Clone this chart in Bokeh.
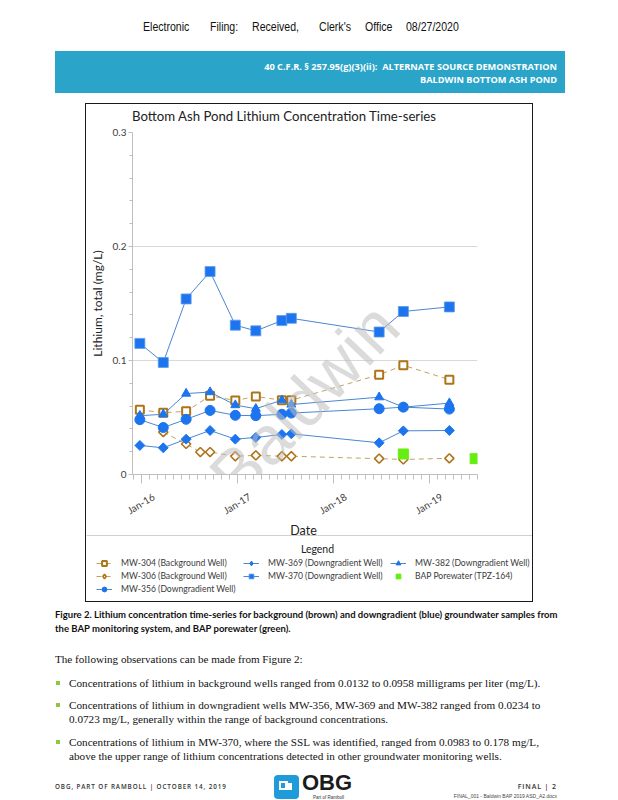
from datetime import datetime
from bokeh.plotting import figure
from bokeh.models import (FixedTicker, Legend, LegendItem, Label, Range1d, Div, Spacer, Span,
                          DatetimeAxis, DatetimeTickFormatter)
from bokeh.layouts import column, row
from bokeh.embed import file_html
from bokeh.resources import INLINE

# ---------------- data ----------------
sample_dates = ["2015-12-26", "2016-03-24", "2016-06-19", "2016-09-18", "2016-12-23",
                "2017-03-11", "2017-06-18", "2017-07-24", "2018-06-23", "2018-09-23", "2019-03-17"]
mw304 = [0.0568, 0.0542, 0.0554, 0.0690, 0.0649, 0.0684, 0.0652, 0.0652, 0.0875, 0.0958, 0.0832]
mw306_dates = ["2016-03-24", "2016-06-19", "2016-08-12", "2016-09-18", "2016-12-23",
               "2017-03-11", "2017-06-18", "2017-07-24", "2018-06-23", "2018-09-23", "2019-03-17"]
mw306 = [0.0372, 0.0268, 0.0197, 0.0197, 0.0160, 0.0168, 0.0160, 0.0160, 0.0139, 0.0132, 0.0142]
mw356 = [0.0481, 0.0412, 0.0484, 0.0562, 0.0519, 0.0516, 0.0528, 0.0539, 0.0577, 0.0591, 0.0574]
mw369 = [0.0255, 0.0234, 0.0310, 0.0386, 0.0310, 0.0325, 0.0351, 0.0357, 0.0278, 0.0383, 0.0386]
mw370 = [0.1150, 0.0983, 0.1540, 0.1780, 0.1310, 0.1260, 0.1350, 0.1370, 0.1250, 0.1430, 0.1470]
mw382 = [0.0516, 0.0528, 0.0710, 0.0723, 0.0609, 0.0577, 0.0652, 0.0614, 0.0678, 0.0591, 0.0626]
bap_dates = ["2018-09-23", "2019-06-23"]
bap = [0.0180, 0.0139]

x_start, x_end = "2015-11-28", "2019-07-02"
year_ticks = ["2016-01-01", "2017-01-01", "2018-01-01", "2019-01-01"]
year_label_format = "%b-%y"          # Jan-16, Jan-17, ...
y_ticks = [0, 0.1, 0.2, 0.3]
y_tick_labels = ["0", "0.1", "0.2", "0.3"]

labels = {
    "304": "MW-304 (Background Well)",
    "306": "MW-306 (Background Well)",
    "356": "MW-356 (Downgradient Well)",
    "369": "MW-369 (Downgradient Well)",
    "370": "MW-370 (Downgradient Well)",
    "382": "MW-382 (Downgradient Well)",
    "bap": "BAP Porewater (TPZ-164)",
}
chart_title = "Bottom Ash Pond Lithium Concentration Time-series"
x_title = "Date"
legend_title = "Legend"
watermark = "Baldwin"

EPOCH = datetime(1970, 1, 1)


def dt(s):
    return datetime.strptime(s, "%Y-%m-%d")


def ms(d):
    return (d - EPOCH).total_seconds() * 1000.0


def no_frame_align(fig):
    if "frame_align" in fig.properties():
        fig.frame_align = False


FONT = "Lato"
blue = "#1C74EE"
blue_line = "#4A86D2"
brown = "#AE7418"
brown_line = "#BFA263"
green = "#66EE11"

# ---------------- chart title strip ----------------
TH = 20
title_div = Div(text=(f'<div style="width:446px;height:{TH}px;position:relative;">'
                      f'<span style="position:absolute;left:46px;top:4px;font-family:Lato;'
                      f'font-size:13.2px;line-height:16px;color:#222;white-space:nowrap;">'
                      f'{chart_title}</span></div>'),
                width=446, height=TH, margin=0)

# ---------------- chart figure ----------------
PH = 400
LABEL_SHIFT_MS = 46 * 86400000.0   # rotated labels are right-anchored; shift so they centre on ticks
p = figure(width=446, height=PH, x_axis_type="datetime",
           x_range=Range1d(dt(x_start), dt(x_end)),
           y_range=Range1d(0, 0.3),
           output_backend="svg", toolbar_location=None,
           min_border_left=45, min_border_right=55, min_border_top=8, min_border_bottom=46)
no_frame_align(p)
p.extra_x_ranges = {"labels": Range1d(ms(dt(x_start)) - LABEL_SHIFT_MS, ms(dt(x_end)) - LABEL_SHIFT_MS)}
p.outline_line_color = None
p.background_fill_color = "white"
p.border_fill_color = "white"

xa = p.xaxis[0]
major_ms = [ms(dt(s)) for s in year_ticks]
minor_ms = []
for yr in range(2015, 2020):
    for mo in range(1, 13):
        d = datetime(yr, mo, 1)
        if dt(x_start) <= d <= dt(x_end) and mo != 1:
            minor_ms.append(ms(d))
xa.ticker = FixedTicker(ticks=major_ms, minor_ticks=minor_ms)
xa.major_label_overrides = {int(t): "" for t in major_ms}
xa.major_label_standoff = 0
xa.axis_line_color = "#BFBFBF"
xa.major_tick_line_color = "#BFBFBF"
xa.minor_tick_line_color = "#BFBFBF"
xa.major_tick_out = 9
xa.major_tick_in = 0
xa.minor_tick_out = 5
xa.minor_tick_in = 0

xl = DatetimeAxis(x_range_name="labels",
                  ticker=FixedTicker(ticks=major_ms),
                  formatter=DatetimeTickFormatter(years=year_label_format, months=year_label_format,
                                                  days=year_label_format, hours=year_label_format))
xl.axis_line_color = None
xl.major_tick_line_color = None
xl.minor_tick_line_color = None
xl.major_tick_out = 0
xl.minor_tick_out = 0
xl.major_label_orientation = 0.55
xl.major_label_standoff = 12
xl.major_label_text_font = FONT
xl.major_label_text_font_size = "10px"
xl.major_label_text_color = "#404040"
p.add_layout(xl, "below")

ya = p.yaxis[0]
ya.ticker = FixedTicker(ticks=y_ticks, minor_ticks=[round(0.02 * i, 2) for i in range(1, 15)])
ya.major_label_overrides = {t: l for t, l in zip(y_ticks, y_tick_labels)}
ya.axis_line_color = "#BFBFBF"
ya.major_tick_line_color = "#BFBFBF"
ya.minor_tick_line_color = "#BFBFBF"
ya.major_tick_out = 4
ya.major_tick_in = 0
ya.minor_tick_out = 3
ya.minor_tick_in = 0
ya.major_label_text_font = FONT
ya.major_label_text_font_size = "10px"
ya.major_label_text_color = "#404040"
ya.major_label_standoff = 2
ya.axis_label = "Lithium, total (mg/L)"
ya.axis_label_text_font = FONT
ya.axis_label_text_font_size = "12px"
ya.axis_label_text_font_style = "normal"
ya.axis_label_text_color = "#222222"
ya.axis_label_standoff = 5

p.xgrid.visible = False
p.ygrid.grid_line_color = "#D9D9D9"

p.add_layout(Label(x=ms(dt("2017-09-10")), y=0.065, text=watermark,
                   angle=0.81, text_align="center", text_baseline="middle",
                   text_font="Liberation Sans", text_font_size="68px",
                   text_color="#BDBDBD", text_alpha=0.55))

d304 = [dt(s) for s in sample_dates]
d306 = [dt(s) for s in mw306_dates]
dbap = [dt(s) for s in bap_dates]

styles = {
    "304": (dict(line_color=brown_line, line_width=1, line_dash="5 4"),
            dict(marker="square", size=8, fill_color="white", line_color=brown, line_width=2)),
    "306": (dict(line_color=brown_line, line_width=1, line_dash="5 4"),
            dict(marker="square", angle=0.785398, size=6.5, fill_color="white",
                 line_color=brown, line_width=1.6)),
    "370": (dict(line_color=blue_line, line_width=1),
            dict(marker="square", size=10, fill_color=blue, line_color="#5E9BEA", line_width=0.8)),
    "356": (dict(line_color=blue_line, line_width=1),
            dict(marker="circle", size=10, fill_color=blue, line_color=blue)),
    "369": (dict(line_color=blue_line, line_width=1),
            dict(marker="square", angle=0.785398, size=7, fill_color=blue, line_color=blue)),
    "382": (dict(line_color=blue_line, line_width=1),
            dict(marker="triangle", size=9, fill_color=blue, line_color=blue)),
    "bap": (None, dict(marker="square", size=10, fill_color=green, line_color=green)),
}
series = {
    "304": (d304, mw304), "306": (d306, mw306), "370": (d304, mw370), "356": (d304, mw356),
    "369": (d304, mw369), "382": (d304, mw382), "bap": (dbap, bap),
}
for key in ["304", "306", "370", "356", "369", "382", "bap"]:
    xs, ys = series[key]
    lst, mst = styles[key]
    if lst is not None:
        p.line(xs, ys, **lst)
    p.scatter(xs, ys, **mst)

# legend swatches cannot show a rotated square, so use Bokeh's diamond marker there
swatch_styles = dict(styles)
swatch_styles["306"] = (styles["306"][0], dict(marker="diamond", size=11, fill_color="white",
                                               line_color=brown, line_width=1.6))
swatch_styles["369"] = (styles["369"][0], dict(marker="diamond", size=12, fill_color=blue,
                                               line_color=blue))

# ---------------- axis title + legend strip (pixel-unit canvas) ----------------
QW, QH = 446, 497 - PH - TH
q = figure(width=QW, height=QH, x_range=Range1d(0, QW), y_range=Range1d(0, QH),
           output_backend="svg", toolbar_location=None,
           min_border_left=0, min_border_right=0, min_border_top=0, min_border_bottom=0,
           x_axis_location=None, y_axis_location=None)
no_frame_align(q)
q.grid.visible = False
q.outline_line_color = None
q.background_fill_color = "white"
q.border_fill_color = "white"

q.add_layout(Label(x=217, y=71, text=x_title, text_align="center", text_baseline="middle",
                   text_font=FONT, text_font_size="12.5px", text_color="#222222"))
q.add_layout(Span(location=66, dimension="width", line_color="#D0D0D0", line_width=1))
q.add_layout(Label(x=231, y=53, text=legend_title, text_align="center",
                   text_baseline="middle", text_font=FONT, text_font_size="10.5px",
                   text_color="#222222"))

nan = float("nan")
swatch = {}
for key in ["304", "306", "370", "356", "369", "382", "bap"]:
    lst, mst = swatch_styles[key]
    rs = []
    if lst is not None:
        rs.append(q.line([nan], [nan], **lst))
    rs.append(q.scatter([nan], [nan], **mst))
    swatch[key] = rs

order = ["304", "369", "382", "306", "370", "bap", "356"]
items = [LegendItem(label=labels[k], renderers=swatch[k]) for k in order]
legend = Legend(items=items, orientation="horizontal", ncols=3, location=(10, 6),
                margin=0, padding=0, spacing=1, glyph_width=16, glyph_height=12,
                label_height=12, label_width=121, label_standoff=9,
                label_text_font=FONT, label_text_font_size="8.6px",
                label_text_color="#3A3A3A", border_line_color=None,
                background_fill_alpha=0)
q.add_layout(legend, "center")

# ---------------- page texts ----------------
filing_words = [("Electronic", 143), ("Filing:", 210), ("Received,", 252),
                ("Clerk's", 319), ("Office", 365), ("08/27/2020", 406)]
band_line1 = "40 C.F.R. § 257.95(g)(3)(ii):&nbsp; ALTERNATE SOURCE DEMONSTRATION"
band_line2 = "BALDWIN BOTTOM ASH POND"
caption1 = ("Figure 2. Lithium concentration time-series for background (brown) and "
            "downgradient (blue) groundwater samples from")
caption2 = "the BAP monitoring system, and BAP porewater (green)."
intro = "The following observations can be made from Figure 2:"
bullets = [
    ["Concentrations of lithium in background wells ranged from 0.0132 to 0.0958 milligrams per liter (mg/L)."],
    ["Concentrations of lithium in downgradient wells MW-356, MW-369 and MW-382 ranged from 0.0234 to",
     "0.0723 mg/L, generally within the range of background concentrations."],
    ["Concentrations of lithium in MW-370, where the SSL was identified, ranged from 0.0983 to 0.178 mg/L,",
     "above the upper range of lithium concentrations detected in other groundwater monitoring wells."],
]
footer_left = "OBG, PART OF RAMBOLL | OCTOBER 14, 2019"
footer_right = "FINAL | 2"
footer_file = "FINAL_001 - Baldwin BAP 2019 ASD_A2.docx"

hdr = ['<div style="position:relative;width:618px;height:104px;overflow:hidden;'
       'font-family:\'Liberation Sans\';color:#111;">']
for w, x in filing_words:
    hdr.append(f'<span style="position:absolute;left:{x}px;top:20px;font-size:12px;'
               f'line-height:14px;white-space:nowrap;transform:scaleX(0.88);'
               f'transform-origin:left center;">{w}</span>')
hdr.append('<div style="position:absolute;left:55px;top:51px;width:510px;height:42px;'
           'background:#2AA4C8;"></div>')
hdr.append(f'<div style="position:absolute;right:61px;top:60px;font-family:\'Open Sans\';'
           f'font-weight:700;font-size:9.2px;line-height:13px;color:white;white-space:nowrap;'
           f'text-align:right;">{band_line1}<br>{band_line2}</div>')
hdr.append('<div style="position:absolute;left:85px;top:103px;width:448px;height:1px;'
           'background:#1a1a1a;"></div>')
hdr.append('</div>')
header = Div(text="".join(hdr), width=618, height=104, margin=0)

ft = ['<div style="position:relative;width:618px;height:199px;overflow:hidden;color:#111;">']
ft.append('<div style="position:absolute;left:85px;top:0px;width:448px;height:1px;'
          'background:#1a1a1a;"></div>')
ft.append(f'<div style="position:absolute;left:55px;top:7px;font-family:Lato;font-weight:700;'
          f'font-size:9.5px;line-height:14px;white-space:nowrap;">{caption1}<br>{caption2}</div>')
ft.append(f'<div style="position:absolute;left:55px;top:52px;font-family:\'Liberation Serif\';'
          f'font-size:11.1px;line-height:13px;white-space:nowrap;">{intro}</div>')
tops = [75, 97, 134]
for lines, t in zip(bullets, tops):
    ft.append(f'<div style="position:absolute;left:56px;top:{t + 5}px;width:4px;height:4px;'
              f'background:#8DC63F;"></div>')
    ft.append(f'<div style="position:absolute;left:69px;top:{t}px;font-family:\'Liberation Serif\';'
              f'font-size:11.2px;line-height:14px;white-space:nowrap;">{"<br>".join(lines)}</div>')
ft.append(f'<div style="position:absolute;left:55px;top:182px;font-family:\'Open Sans\';'
          f'font-weight:600;font-size:6.3px;letter-spacing:0.9px;line-height:8px;color:#333;'
          f'white-space:nowrap;">{footer_left}</div>')
ft.append(f'<div style="position:absolute;right:61px;top:182px;font-family:\'Open Sans\';'
          f'font-weight:600;font-size:7px;letter-spacing:0.9px;line-height:8px;color:#333;'
          f'white-space:nowrap;">{footer_right}</div>')
ft.append(f'<div style="position:absolute;right:61px;top:192px;font-family:\'Liberation Sans\';'
          f'font-size:5px;line-height:6px;color:#444;white-space:nowrap;">{footer_file}</div>')
ft.append('<div style="position:absolute;left:274px;top:174px;width:25px;height:24px;'
          'border-radius:4px;background:#1E9BD8;"></div>')
ft.append('<div style="position:absolute;left:279px;top:180px;width:9px;height:9px;'
          'border:2px solid white;border-right:none;"></div>')
ft.append('<div style="position:absolute;left:285px;top:182px;width:7px;height:7px;'
          'background:white;"></div>')
ft.append('<div style="position:absolute;left:302px;top:172px;font-family:\'Liberation Sans\';'
          'font-weight:700;font-size:22px;line-height:20px;color:#1b1b1b;">OBG</div>')
ft.append('<div style="position:absolute;left:313px;top:194px;font-family:\'Liberation Sans\';'
          'font-size:4.5px;line-height:5px;color:#333;">Part of Ramboll</div>')
ft.append('</div>')
footer = Div(text="".join(ft), width=618, height=199, margin=0)


def vline():
    return Div(text="", width=1, height=497, margin=0, styles={"background-color": "#1a1a1a"})


middle = column(title_div, p, q, spacing=0)
layout = column(header,
                row(Spacer(width=85, height=497, margin=0), vline(), middle, vline(), spacing=0),
                footer, spacing=0)

open("out.html", "w").write(file_html(layout, INLINE))
